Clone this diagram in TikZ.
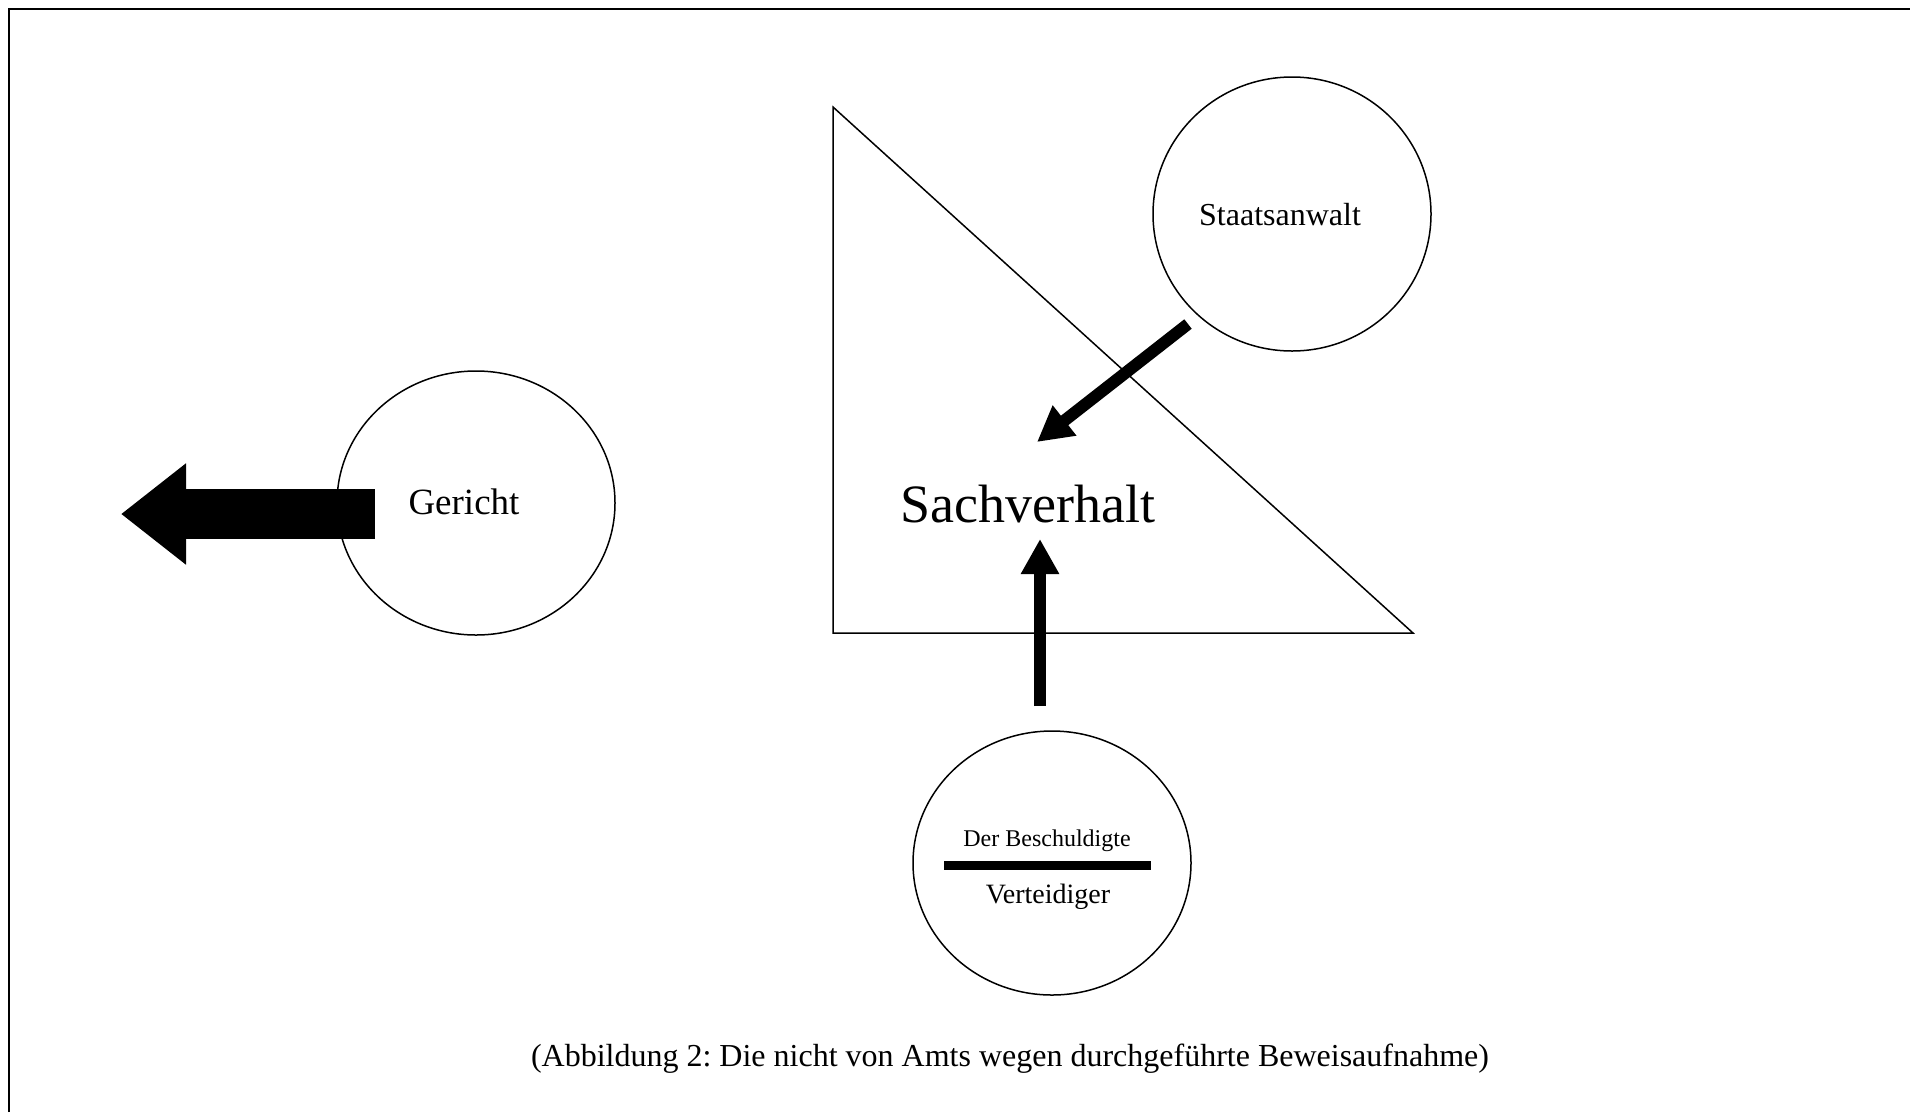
\documentclass[tikz,border=0pt]{standalone}
\usepackage{fontspec}
\setmainfont{Liberation Serif}
\frenchspacing
\usetikzlibrary{shapes.geometric,arrows.meta}
\tikzset{
  circ/.style={draw, ellipse, line width=1.5pt, minimum width=278pt, minimum height=264pt, inner sep=0pt},
  lbl/.style={inner sep=0pt, anchor=base},
  thinarrow/.style={line width=12pt, -{Triangle[length=35pt,width=36pt]}},
  fatarrow/.style={line width=50pt, -{Triangle[length=65pt,width=97pt]}},
  frameline/.style={line width=2.5pt},
  bar/.style={line width=9pt}
}
\begin{document}
\begin{tikzpicture}[x=1pt,y=-1pt]
\useasboundingbox (0,0) rectangle (1910,1112);
% frame (top and left only)
\draw[frameline] (9,1112) -- (9,9) -- (1910,9);
% triangle
\draw[line width=1.5pt] (833,107) -- (833,633) -- (1413,633) -- cycle;
% ellipses
\node[circ] (ger) at (476,503) {};
\node[circ, minimum height=274pt] (sta) at (1292,214) {};
\node[circ] (bes) at (1052,863) {};
% labels
\node[lbl, font=\fontsize{37}{41}\selectfont] (gertxt) at (464,514) {Gericht};
\node[lbl, font=\fontsize{54}{60}\selectfont] (sach) at (1028,522) {Sachverhalt};
\node[lbl, font=\fontsize{32}{36}\selectfont] (statxt) at (1280,225) {Staatsanwalt};
\node[lbl, font=\fontsize{24}{28}\selectfont] (bestxt) at (1047,846) {Der Beschuldigte};
\node[lbl, font=\fontsize{28}{32}\selectfont] (vertxt) at (1048,903) {Verteidiger};
\node[lbl, font=\fontsize{32}{36}\selectfont\frenchspacing] (cap) at (1010,1066) {(Abbildung 2: Die nicht von Amts wegen durchgeführte Beweisaufnahme)};
% bar between the two roles
\coordinate (barl) at (944,865.5);
\coordinate (barr) at (1151,865.5);
\draw[bar] (barl) -- (barr);
% arrows
\coordinate (gerout) at (375,514);
\coordinate (gertip) at (121,514);
\draw[fatarrow] (gerout) -- (gertip);
\coordinate (staout) at (1188,324);
\coordinate (statip) at (1037,442);
\draw[thinarrow] (staout) -- (statip);
\coordinate (besout) at (1040,706);
\coordinate (bestip) at (1040,539);
\draw[thinarrow] (besout) -- (bestip);
\end{tikzpicture}
\end{document}
